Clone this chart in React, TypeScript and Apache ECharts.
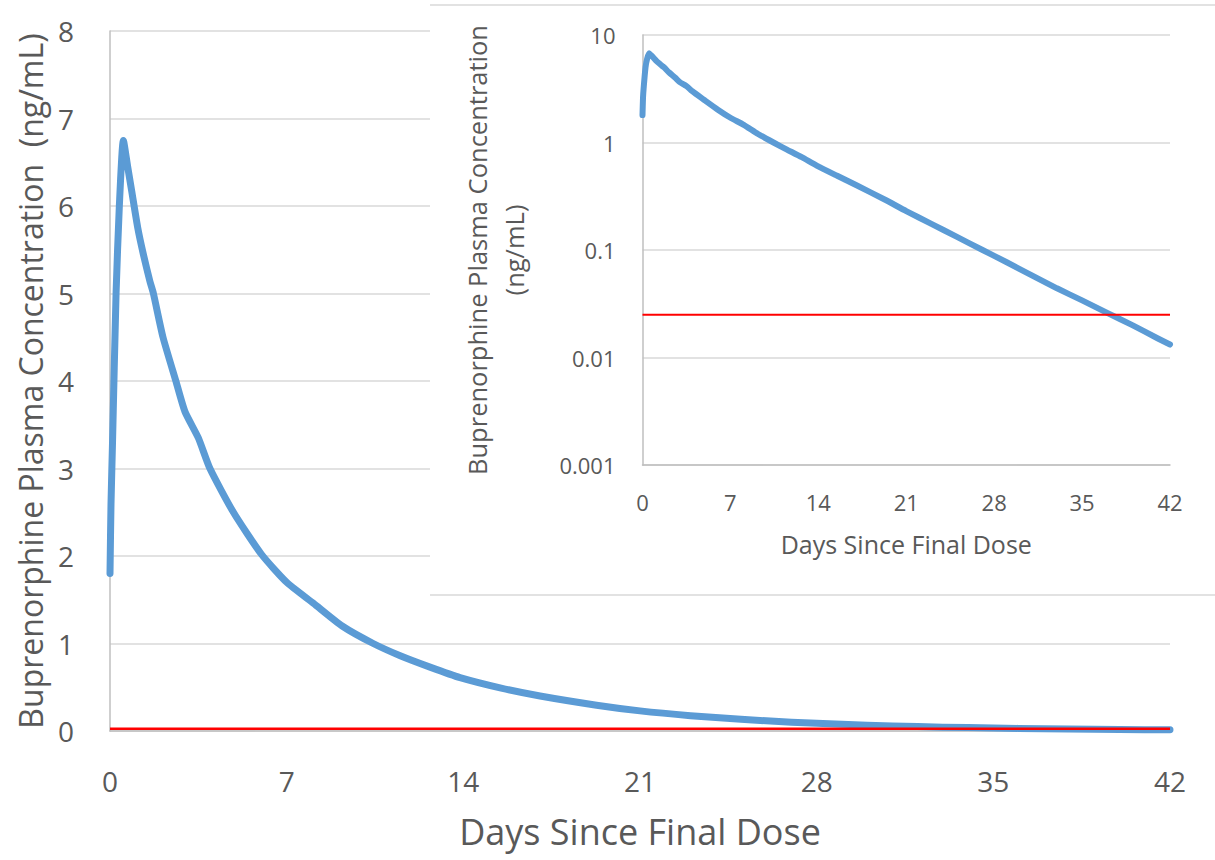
import React, { useEffect, useRef } from "react";
import * as echarts from "echarts";

// Buprenorphine plasma concentration after the final dose (ng/mL)
const days = [
  0, 0.04, 0.1, 0.24, 0.37, 0.53, 0.7, 0.86, 1.1, 1.32, 1.58, 1.72, 2.1, 2.61,
  2.97, 3.5, 3.96, 4.89, 6.0, 7.0, 8.06, 9.2, 10.43, 11.5, 12.68, 13.87, 15.5,
  17.04, 19.28, 21, 23, 25, 27, 29, 31, 33, 35, 37, 39, 41, 42,
];
const concentration = [
  1.8, 2.6, 3.3, 5.0, 6.0, 6.75, 6.45, 6.17, 5.75, 5.45, 5.14, 5.0, 4.5, 4.0,
  3.65, 3.35, 3.0, 2.5, 2.02, 1.7, 1.46, 1.2, 1.0, 0.86, 0.73, 0.61, 0.49,
  0.4, 0.295, 0.23, 0.175, 0.133, 0.101, 0.077, 0.058, 0.044, 0.034, 0.026,
  0.02, 0.0151, 0.0132,
];

// Horizontal reference level (ng/mL) and the span it is drawn across
const referenceLevel = 0.025;
const dayRange = [0, 42];

const linearTicks = ["0", "1", "2", "3", "4", "5", "6", "7", "8"];
const dayTicks = [0, 7, 14, 21, 28, 35, 42];
const logTicks = ["0.001", "0.01", "0.1", "1", "10"];

const yTitle = "Buprenorphine Plasma Concentration  (ng/mL)";
const insetYTitle = "Buprenorphine Plasma Concentration\n(ng/mL)";
const xTitle = "Days Since Final Dose";

const FONT = "'Open Sans', 'DejaVu Sans', sans-serif";
const TEXT = "#595959";
const GRID = "#D9D9D9";
const AXIS = "#BFBFBF";
const BLUE = "#5B9BD5";
const RED = "#FF0000";

export default function App() {
  const ref = useRef<HTMLDivElement>(null);

  useEffect(() => {
    if (!ref.current) return;
    const chart = echarts.init(ref.current, undefined, { renderer: "svg" });

    const curve = days.map((d, i) => [d, concentration[i]]);
    const refLine = dayRange.map((d) => [d, referenceLevel]);

    const fmtLog = (v: number) => {
      const s = String(parseFloat(v.toPrecision(6)));
      return logTicks.includes(s) ? s : "";
    };

    chart.setOption({
      animation: false,
      backgroundColor: "#ffffff",
      textStyle: { fontFamily: FONT },
      grid: [
        { left: 110, right: 45, top: 31, bottom: 129, containLabel: false },
        { left: 642.5, right: 45, top: 35, bottom: 395, containLabel: false },
      ],
      graphic: [
        {
          type: "rect",
          z: 1,
          shape: { x: 430, y: 5, width: 800, height: 590 },
          style: { fill: "#ffffff" },
        },
        {
          type: "line",
          z: 1,
          shape: { x1: 430, y1: 5, x2: 1215, y2: 5 },
          style: { stroke: GRID, lineWidth: 1.5 },
        },
        {
          type: "line",
          z: 1,
          shape: { x1: 430, y1: 595, x2: 1215, y2: 595 },
          style: { stroke: GRID, lineWidth: 1.5 },
        },
      ],
      xAxis: [
        {
          gridIndex: 0,
          type: "value",
          z: 0,
          min: dayRange[0],
          max: dayRange[1],
          interval: 7,
          name: xTitle,
          nameLocation: "middle",
          nameGap: 82,
          nameTextStyle: { fontSize: 36, color: TEXT, fontFamily: FONT },
          axisLine: { show: true, lineStyle: { color: AXIS, width: 1.5 } },
          axisTick: { show: false },
          splitLine: { show: false },
          axisLabel: {
            fontSize: 28,
            color: TEXT,
            margin: 36,
            fontFamily: FONT,
            formatter: (v: number) => (dayTicks.includes(v) ? String(v) : ""),
          },
        },
        {
          gridIndex: 1,
          type: "value",
          z: 5,
          min: dayRange[0],
          max: dayRange[1],
          interval: 7,
          name: xTitle,
          nameLocation: "middle",
          nameGap: 66,
          nameTextStyle: { fontSize: 25, color: TEXT, fontFamily: FONT },
          axisLine: { show: true, lineStyle: { color: AXIS, width: 1.5 } },
          axisTick: { show: false },
          splitLine: { show: false },
          axisLabel: {
            fontSize: 22,
            color: TEXT,
            margin: 26,
            fontFamily: FONT,
            formatter: (v: number) => (dayTicks.includes(v) ? String(v) : ""),
          },
        },
      ],
      yAxis: [
        {
          gridIndex: 0,
          type: "value",
          z: 0,
          min: 0,
          max: 8,
          interval: 1,
          name: yTitle,
          nameLocation: "middle",
          nameRotate: 90,
          nameGap: 64,
          nameTextStyle: { fontSize: 32, color: TEXT, fontFamily: FONT },
          axisLine: { show: true, lineStyle: { color: AXIS, width: 1.5 } },
          axisTick: { show: false },
          splitLine: { show: true, lineStyle: { color: GRID, width: 1.5 } },
          axisLabel: {
            fontSize: 28,
            color: TEXT,
            margin: 36,
            fontFamily: FONT,
            formatter: (v: number) =>
              linearTicks.includes(String(v)) ? String(v) : "",
          },
        },
        {
          gridIndex: 1,
          type: "log",
          logBase: 10,
          z: 5,
          min: 0.001,
          max: 10,
          name: insetYTitle,
          nameLocation: "middle",
          nameRotate: 90,
          nameGap: 110,
          nameTextStyle: {
            fontSize: 25.5,
            lineHeight: 37,
            color: TEXT,
            fontFamily: FONT,
          },
          axisLine: { show: true, lineStyle: { color: AXIS, width: 1.5 } },
          axisTick: { show: false },
          splitLine: { show: true, lineStyle: { color: GRID, width: 1.5 } },
          axisLabel: {
            fontSize: 22,
            color: TEXT,
            margin: 27,
            fontFamily: FONT,
            formatter: fmtLog,
          },
        },
      ],
      series: [
        {
          name: "Concentration",
          type: "line",
          xAxisIndex: 0,
          yAxisIndex: 0,
          z: 2,
          data: curve,
          showSymbol: false,
          smooth: 0.2,
          lineStyle: { color: BLUE, width: 7, cap: "round", join: "round" },
        },
        {
          name: "Reference",
          type: "line",
          xAxisIndex: 0,
          yAxisIndex: 0,
          z: 3,
          data: refLine,
          showSymbol: false,
          lineStyle: { color: RED, width: 2.5 },
        },
        {
          name: "Concentration (log)",
          type: "line",
          xAxisIndex: 1,
          yAxisIndex: 1,
          z: 6,
          data: curve,
          showSymbol: false,
          smooth: 0.2,
          lineStyle: { color: BLUE, width: 6, cap: "round", join: "round" },
        },
        {
          name: "Reference (log)",
          type: "line",
          xAxisIndex: 1,
          yAxisIndex: 1,
          z: 7,
          data: refLine,
          showSymbol: false,
          lineStyle: { color: RED, width: 2 },
        },
      ],
    });

    return () => chart.dispose();
  }, []);

  return (
    <div
      ref={ref}
      style={{
        position: "absolute",
        left: 0,
        top: 0,
        width: 1215,
        height: 860,
      }}
    />
  );
}
